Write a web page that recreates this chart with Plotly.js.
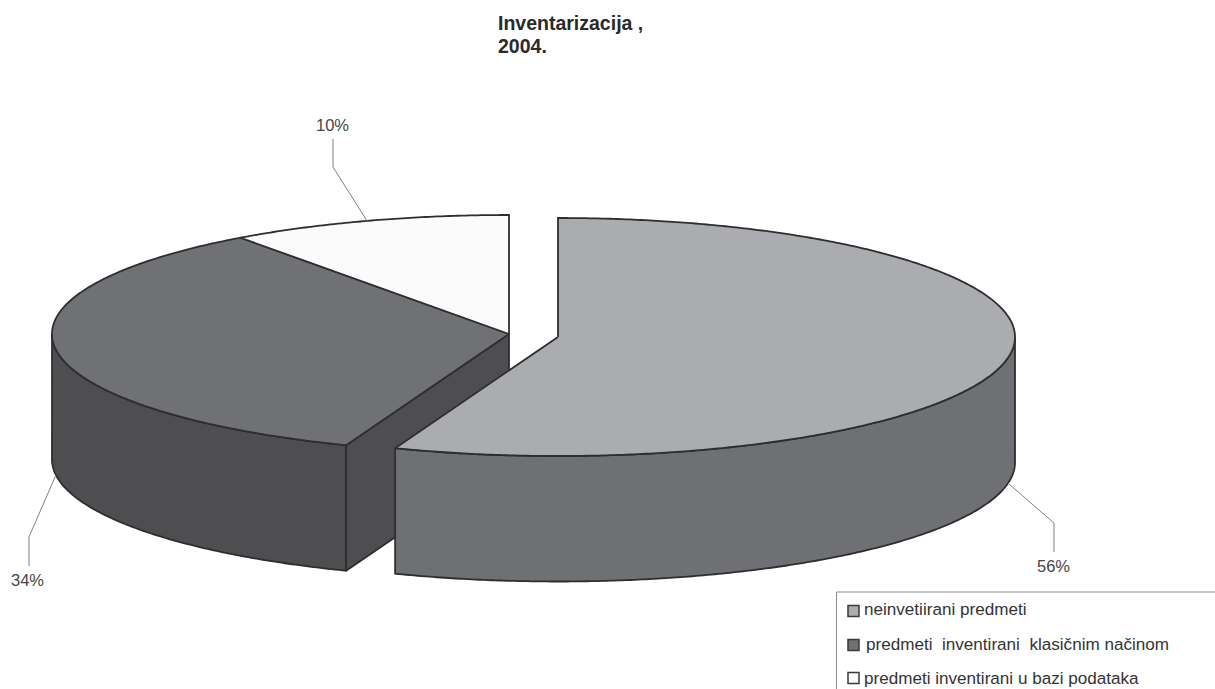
<!DOCTYPE html>
<html>
<head>
<meta charset="utf-8">
<script src="https://cdn.plot.ly/plotly-3.0.1.min.js"></script>
<style>html,body{margin:0;padding:0;background:#fff}#chart{width:1215px;height:689px}</style>
</head>
<body>
<div id="chart"></div>
<script>
// Data
const categories = ['neinvetiirani predmeti', 'predmeti\u00a0 inventirani\u00a0 klasičnim načinom', 'predmeti inventirani u bazi podataka'];
const shares = [55.8, 34.2, 10.0];
const topColors = ['#abacb0', '#707175', '#fbfbfb'];
const sideColors = ['#6f7074', '#4e4e50', '#fbfbfb'];
const titleLines = ['Inventarizacija ,', '2004.'];

// 3D pie geometry (pixel-like axis units)
const RX = 457, RY = 119, DEPTH = 125.5;
const centers = [[558, 337], [509, 334], [509, 334]];
const EDGE = '#2e2e30', LEADER = '#808080', TXT = '#454545';

// cumulative clockwise angles from 12 o'clock
const bounds = [0];
shares.forEach(s => bounds.push(bounds[bounds.length - 1] + s * 3.6));
const pt = (c, deg, dz) => {
  const r = deg * Math.PI / 180;
  return [c[0] + RX * Math.sin(r), c[1] - RY * Math.cos(r) + (dz || 0)];
};
const arc = (c, a, b, dz) => {
  const out = [], n = Math.max(2, Math.ceil(Math.abs(b - a) * 2));
  for (let i = 0; i <= n; i++) out.push(pt(c, a + (b - a) * i / n, dz));
  return out;
};
const poly = (pts, fill, name) => ({
  type: 'scatter', mode: 'lines', fill: 'toself', fillcolor: fill, name: name,
  x: pts.map(p => p[0]), y: pts.map(p => p[1]),
  line: {color: EDGE, width: 1.8, simplify: false}, hoverinfo: 'name', showlegend: false
});
const topFace = i => {
  const c = centers[i];
  return poly([c].concat(arc(c, bounds[i], bounds[i + 1], 0), [c]), topColors[i], categories[i]);
};
const wall = (i, a, b) => {
  const c = centers[i];
  const pts = arc(c, a, b, 0).concat(arc(c, b, a, DEPTH));
  pts.push(pts[0]);
  return poly(pts, sideColors[i], categories[i]);
};
const innerWall = i => {
  const c = centers[i], e = pt(c, bounds[i], 0), f = pt(c, bounds[i], DEPTH);
  return poly([c, e, f, [c[0], c[1] + DEPTH], c], sideColors[i], categories[i]);
};

const traces = [
  wall(1, bounds[1], 270), innerWall(1), topFace(1), topFace(2),
  wall(0, 90, bounds[1]), topFace(0)
];

// leader lines: slice edge anchor -> elbow -> label
const leaders = [
  {ang: 100, dz: DEPTH, c: 0, xy: [[1054, 523], [1054, 552]], label: [1053, 566]},
  {ang: 262.5, dz: DEPTH, c: 1, xy: [[29, 537], [29, 566]], label: [27, 580]},
  {ang: 341.9, dz: 0, c: 2, xy: [[333, 167], [333, 139]], label: [332.5, 124.5]}
];
leaders.forEach((l, i) => {
  const p = pt(centers[l.c], l.ang, l.dz);
  const pts = [p].concat(l.xy);
  traces.push({type: 'scatter', mode: 'lines', x: pts.map(q => q[0]), y: pts.map(q => q[1]),
    line: {color: LEADER, width: 1}, hoverinfo: 'skip', showlegend: false});
});

// legend swatches
const legendY = [611, 645, 678], legendTextY = [609, 644, 678], legendX = [862, 864, 862];
traces.push({type: 'scatter', mode: 'markers', x: [853.5, 853.5, 853.5], y: legendY,
  marker: {symbol: 'square', size: 11, color: topColors, line: {color: '#3a3a3a', width: 1.5}},
  hoverinfo: 'skip', showlegend: false});

const annotations = leaders.map((l, i) => ({
  x: l.label[0], y: l.label[1], xref: 'x', yref: 'y', showarrow: false,
  text: Math.round(shares[i]) + '%', font: {family: 'Liberation Sans, Arial, sans-serif', size: 16.5, color: TXT}
})).concat(categories.map((c, i) => ({
  x: legendX[i], y: legendTextY[i], xref: 'x', yref: 'y', xanchor: 'left', showarrow: false,
  text: c, font: {family: 'Liberation Sans, Arial, sans-serif', size: 17.1, color: '#333'}
})));

const layout = {
  width: 1215, height: 689, margin: {l: 0, r: 0, t: 0, b: 0},
  paper_bgcolor: '#fff', plot_bgcolor: '#fff', showlegend: false,
  title: {
    text: titleLines.map(t => '<span style="font-size:19.5px">' + t + '</span>').join('<br>'),
    x: 498 / 1215, xanchor: 'left', xref: 'paper', y: 1 - 30 / 689, yanchor: 'middle', yref: 'paper',
    font: {family: 'Liberation Sans, Arial, sans-serif', size: 17.7, color: '#2a2a2a', weight: 700},
    automargin: false
  },
  xaxis: {range: [0, 1215], visible: false, fixedrange: true},
  yaxis: {range: [689, 0], visible: false, fixedrange: true},
  shapes: [
    {type: 'line', xref: 'x', yref: 'y', x0: 836.5, x1: 1215, y0: 592, y1: 592, line: {color: '#8a8a8a', width: 1}},
    {type: 'line', xref: 'x', yref: 'y', x0: 836.5, x1: 836.5, y0: 592, y1: 689, line: {color: '#8a8a8a', width: 1}}
  ],
  annotations: annotations
};
Plotly.newPlot('chart', traces, layout, {displayModeBar: false});
</script>
</body>
</html>
